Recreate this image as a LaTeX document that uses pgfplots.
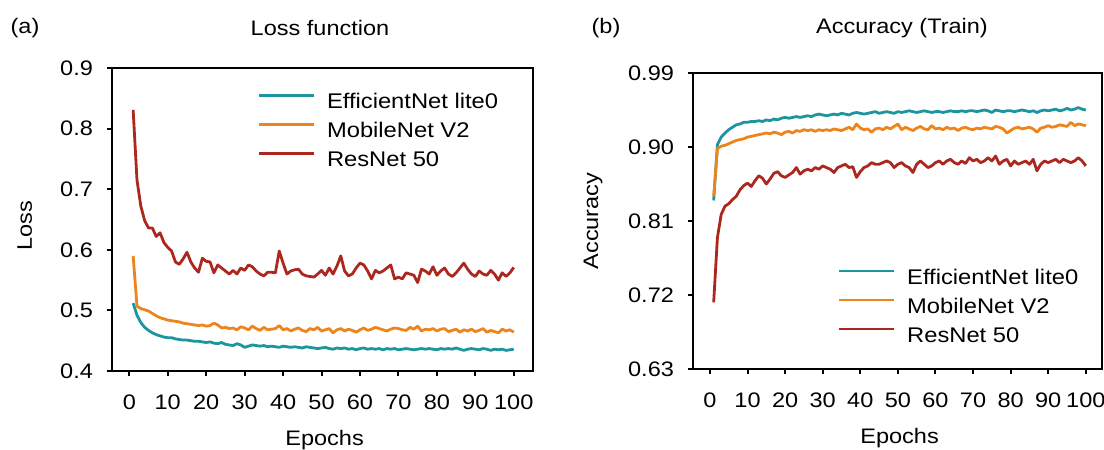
\documentclass[border=0pt]{standalone}
\usepackage{fontspec}
\setmainfont{Liberation Sans}[FakeStretch=1.12]
\usepackage{pgfplots}
\usepackage{pgfplotstable}
\pgfplotsset{compat=1.18}

\definecolor{effteal}{RGB}{28,150,158}
\definecolor{moborange}{RGB}{238,132,28}
\definecolor{resred}{RGB}{172,40,30}
\newcommand{\fs}{\fontsize{10.5}{12.6}\selectfont}
\newcommand{\lfs}{\fontsize{10.6}{12.7}\selectfont}

% epoch, EfficientNet lite0, MobileNet V2, ResNet 50
\pgfplotstableread{
ep eff mob res
1 0.512 0.590 0.831
2 0.492 0.507 0.715
3 0.480 0.503 0.672
4 0.472 0.501 0.648
5 0.467 0.499 0.636
6 0.463 0.495 0.636
7 0.460 0.491 0.622
8 0.458 0.488 0.628
9 0.456 0.486 0.612
10 0.455 0.484 0.604
11 0.455 0.483 0.598
12 0.453 0.482 0.580
13 0.452 0.481 0.576
14 0.451 0.479 0.585
15 0.451 0.478 0.596
16 0.450 0.477 0.580
17 0.449 0.476 0.570
18 0.449 0.475 0.563
19 0.448 0.476 0.586
20 0.447 0.474 0.581
21 0.448 0.475 0.580
22 0.446 0.479 0.562
23 0.445 0.476 0.575
24 0.447 0.471 0.570
25 0.444 0.472 0.565
26 0.443 0.470 0.560
27 0.442 0.471 0.566
28 0.445 0.468 0.560
29 0.443 0.473 0.570
30 0.439 0.471 0.566
31 0.441 0.468 0.575
32 0.443 0.474 0.572
33 0.442 0.470 0.565
34 0.441 0.467 0.560
35 0.442 0.472 0.557
36 0.440 0.468 0.563
37 0.441 0.469 0.563
38 0.440 0.470 0.562
39 0.439 0.475 0.598
40 0.441 0.468 0.578
41 0.440 0.470 0.560
42 0.439 0.466 0.565
43 0.440 0.469 0.567
44 0.439 0.471 0.568
45 0.438 0.467 0.560
46 0.440 0.465 0.557
47 0.439 0.470 0.556
48 0.438 0.468 0.555
49 0.437 0.472 0.560
50 0.438 0.466 0.566
51 0.439 0.468 0.558
52 0.437 0.470 0.570
53 0.436 0.463 0.560
54 0.438 0.468 0.573
55 0.437 0.470 0.590
56 0.438 0.466 0.565
57 0.436 0.469 0.557
58 0.437 0.467 0.560
59 0.435 0.464 0.570
60 0.437 0.468 0.578
61 0.438 0.471 0.575
62 0.436 0.467 0.565
63 0.437 0.469 0.552
64 0.436 0.472 0.566
65 0.437 0.470 0.562
66 0.435 0.468 0.565
67 0.437 0.466 0.570
68 0.436 0.469 0.575
69 0.437 0.471 0.552
70 0.435 0.470 0.555
71 0.436 0.468 0.552
72 0.437 0.467 0.562
73 0.436 0.472 0.560
74 0.435 0.469 0.558
75 0.436 0.474 0.546
76 0.437 0.466 0.568
77 0.436 0.469 0.565
78 0.437 0.468 0.560
79 0.436 0.470 0.572
80 0.435 0.466 0.558
81 0.437 0.469 0.565
82 0.436 0.470 0.570
83 0.437 0.465 0.560
84 0.436 0.467 0.556
85 0.438 0.469 0.562
86 0.436 0.464 0.570
87 0.434 0.468 0.578
88 0.436 0.466 0.568
89 0.437 0.469 0.560
90 0.436 0.465 0.556
91 0.435 0.467 0.565
92 0.437 0.470 0.560
93 0.436 0.464 0.558
94 0.434 0.467 0.566
95 0.436 0.465 0.560
96 0.435 0.463 0.550
97 0.436 0.469 0.562
98 0.434 0.466 0.556
99 0.435 0.468 0.562
100 0.436 0.464 0.571
}\losstab

\pgfplotstableread{
ep eff mob res
1 0.835 0.840 0.711
2 0.903 0.898 0.790
3 0.912 0.901 0.818
4 0.917 0.902 0.828
5 0.921 0.904 0.831
6 0.924 0.906 0.836
7 0.927 0.908 0.840
8 0.928 0.909 0.848
9 0.930 0.910 0.853
10 0.930 0.912 0.856
11 0.931 0.913 0.852
12 0.931 0.914 0.859
13 0.932 0.915 0.865
14 0.931 0.916 0.862
15 0.933 0.917 0.855
16 0.932 0.916 0.861
17 0.934 0.918 0.868
18 0.933 0.917 0.870
19 0.935 0.915 0.865
20 0.936 0.918 0.863
21 0.935 0.919 0.866
22 0.936 0.917 0.869
23 0.937 0.920 0.875
24 0.936 0.919 0.867
25 0.937 0.921 0.871
26 0.938 0.920 0.873
27 0.937 0.921 0.871
28 0.939 0.919 0.875
29 0.940 0.921 0.873
30 0.939 0.920 0.877
31 0.938 0.921 0.875
32 0.939 0.920 0.873
33 0.940 0.922 0.869
34 0.939 0.921 0.875
35 0.941 0.920 0.877
36 0.940 0.922 0.879
37 0.939 0.924 0.875
38 0.941 0.921 0.876
39 0.942 0.928 0.863
40 0.941 0.923 0.870
41 0.940 0.921 0.875
42 0.941 0.922 0.877
43 0.942 0.918 0.881
44 0.943 0.922 0.879
45 0.941 0.923 0.879
46 0.942 0.921 0.881
47 0.943 0.924 0.883
48 0.942 0.922 0.881
49 0.941 0.925 0.875
50 0.943 0.928 0.879
51 0.942 0.921 0.881
52 0.943 0.924 0.877
53 0.944 0.922 0.875
54 0.943 0.920 0.869
55 0.942 0.923 0.879
56 0.943 0.925 0.883
57 0.944 0.922 0.879
58 0.943 0.921 0.875
59 0.942 0.926 0.877
60 0.943 0.922 0.881
61 0.943 0.923 0.883
62 0.942 0.921 0.879
63 0.943 0.924 0.883
64 0.944 0.922 0.885
65 0.943 0.923 0.881
66 0.943 0.920 0.879
67 0.944 0.923 0.883
68 0.943 0.924 0.880
69 0.944 0.922 0.887
70 0.944 0.921 0.883
71 0.943 0.923 0.885
72 0.944 0.922 0.881
73 0.945 0.924 0.883
74 0.944 0.923 0.887
75 0.942 0.922 0.883
76 0.945 0.925 0.889
77 0.944 0.924 0.879
78 0.943 0.922 0.883
79 0.944 0.917 0.885
80 0.944 0.920 0.877
81 0.943 0.923 0.883
82 0.944 0.924 0.879
83 0.945 0.922 0.881
84 0.944 0.923 0.883
85 0.943 0.924 0.879
86 0.944 0.922 0.885
87 0.942 0.918 0.871
88 0.944 0.923 0.879
89 0.945 0.924 0.883
90 0.944 0.926 0.881
91 0.945 0.924 0.883
92 0.946 0.925 0.885
93 0.944 0.927 0.881
94 0.945 0.926 0.885
95 0.947 0.925 0.883
96 0.945 0.930 0.881
97 0.946 0.926 0.883
98 0.948 0.928 0.887
99 0.946 0.927 0.883
100 0.945 0.926 0.877
}\acctab

\pgfplotsset{
  panel/.style={
    scale only axis,
    anchor=south west,
    tick align=outside,
    tick pos=left,
    major tick length=2.5pt,
    axis line style={black, line width=1pt},
    every tick/.style={black, line width=1pt},
    xtick={0,10,...,100},
    /pgf/number format/assume math mode=true,
    tick label style={font=\fs},
    xticklabel style={yshift=-6pt},
    yticklabel style={xshift=-3.5pt},
    label style={font=\fs},
    xlabel={Epochs},
    xlabel style={at={(axis description cs:0.505,0)}, anchor=center, yshift=-34.5pt},
    legend cell align=left,
    legend style={draw=none, fill=none, font=\lfs, inner sep=0pt,
      row sep=4.8pt, column sep=6pt,
      nodes={inner sep=0pt, text height=7.7pt, text depth=2pt}},
    legend image code/.code={\draw[#1, line width=1.4pt] (0pt,3.7pt) -- (27.5pt,3.7pt);},
  },
  curve/.style={line width=1.4pt, line join=round},
}

\begin{document}
\begin{tikzpicture}
\path[use as bounding box] (0,0) rectangle (552pt,225pt);

\begin{axis}[panel,
  at={(56pt,39.5pt)}, width=210.5pt, height=151.5pt,
  xmin=-4.5, xmax=105, ymin=0.4, ymax=0.9,
  ytick={0.4,0.5,0.6,0.7,0.8,0.9},
  yticklabel style={/pgf/number format/.cd, fixed, fixed zerofill, precision=1},
  ylabel={Loss},
  ylabel style={at={(axis description cs:-0.207,0.48)}, anchor=center},
  legend style={at={(axis description cs:0.344,0.919)}, anchor=north west},
]
\addplot[curve, effteal] table[x=ep, y=eff] {\losstab};
\addlegendentry{EfficientNet lite0}
\addplot[curve, moborange] table[x=ep, y=mob] {\losstab};
\addlegendentry{MobileNet V2}
\addplot[curve, resred] table[x=ep, y=res] {\losstab};
\addlegendentry{ResNet 50}
\end{axis}

\begin{axis}[panel,
  at={(346.5pt,40.5pt)}, width=204.5pt, height=148pt,
  xmin=-4.5, xmax=104.3, ymin=0.63, ymax=0.99,
  ytick={0.63,0.72,0.81,0.90,0.99},
  yticklabel style={/pgf/number format/.cd, fixed, fixed zerofill, precision=2},
  ylabel={Accuracy},
  ylabel style={at={(axis description cs:-0.2445,0.5)}, anchor=center},
  legend style={at={(axis description cs:0.352,0.34)}, anchor=north west},
]
\addplot[curve, effteal] table[x=ep, y=eff] {\acctab};
\addlegendentry{EfficientNet lite0}
\addplot[curve, moborange] table[x=ep, y=mob] {\acctab};
\addlegendentry{MobileNet V2}
\addplot[curve, resred] table[x=ep, y=res] {\acctab};
\addlegendentry{ResNet 50}
\end{axis}

\node[font=\fs] at (12.5pt,211pt) {(a)};
\node[font=\fs] at (160pt,211pt) {Loss function};
\node[font=\fs] at (303pt,211pt) {(b)};
\node[font=\fs] at (451pt,211pt) {Accuracy (Train)};
\end{tikzpicture}
\end{document}
